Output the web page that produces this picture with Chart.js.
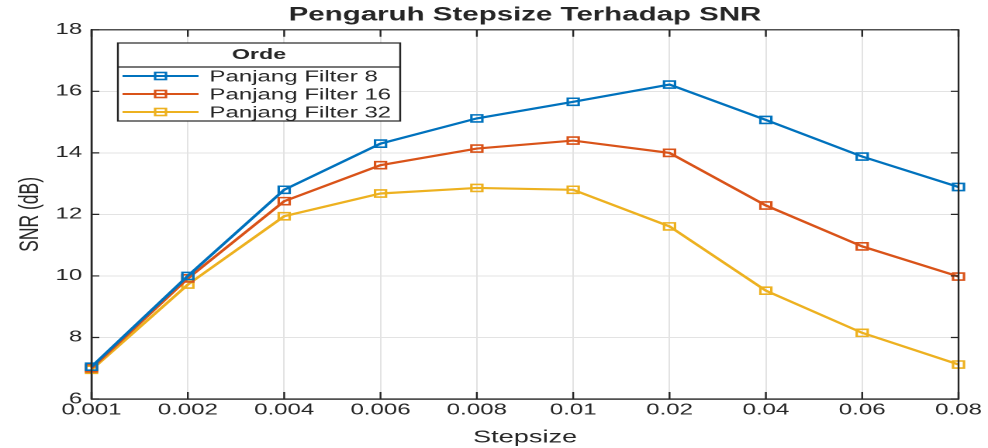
<!DOCTYPE html>
<html>
<head>
<meta charset="utf-8">
<script src="https://cdn.jsdelivr.net/npm/chart.js@4/dist/chart.umd.min.js"></script>
<style>
  html, body { margin: 0; padding: 0; background: #fff; overflow: hidden; }
  /* the reference image is stretched sideways, so the chart is drawn narrow and stretched */
  #wrap { position: absolute; left: 0; top: 0; width: 637px; height: 448px; transform: scaleX(1.551); transform-origin: 0 0; }
</style>
</head>
<body>
<div id="wrap"><canvas id="myChart"></canvas></div>
<script>
var stepsize = ['0.001', '0.002', '0.004', '0.006', '0.008', '0.01', '0.02', '0.04', '0.06', '0.08'];
var filter8 = [7.05, 10.0, 12.8, 14.3, 15.12, 15.66, 16.22, 15.07, 13.88, 12.89];
var filter16 = [7.0, 9.92, 12.43, 13.6, 14.14, 14.4, 14.0, 12.29, 10.96, 9.98];
var filter32 = [6.95, 9.72, 11.94, 12.68, 12.86, 12.8, 11.61, 9.52, 8.15, 7.12];
var seriesNames = ['Panjang Filter 8', 'Panjang Filter 16', 'Panjang Filter 32'];
var legendTitle = 'Orde';

var font = '"Liberation Sans", Arial, Helvetica, sans-serif';
var ink = '#262626';
var colors = ['#0072BD', '#D95319', '#EDB120'];

function makeSet(label, data, color){
    return {
        label: label,
        data: data,
        borderColor: color,
        backgroundColor: color,
        borderWidth: 2.2,
        pointStyle: 'rect',
        pointRadius: 5,
        pointHoverRadius: 5,
        pointBorderWidth: 1.6,
        pointBackgroundColor: 'rgba(0,0,0,0)',
        pointBorderColor: color,
        tension: 0
    };
}

// box round the axes plus inward ticks, like MATLAB
var boxPlugin = {
    id: 'box',
    afterDraw: function(chart){
        var ctx = chart.ctx;
        var a = chart.chartArea;
        var xs = chart.scales.x, ys = chart.scales.y;
        ctx.save();
        ctx.strokeStyle = ink;
        ctx.lineWidth = 1.2;
        ctx.beginPath();
        for(var i = 0; i < stepsize.length; i++){
            var px = xs.getPixelForValue(i);
            ctx.moveTo(px, a.bottom); ctx.lineTo(px, a.bottom - 7);
            ctx.moveTo(px, a.top); ctx.lineTo(px, a.top + 7);
        }
        ys.ticks.forEach(function(t){
            var py = ys.getPixelForValue(t.value);
            ctx.moveTo(a.left, py); ctx.lineTo(a.left + 5, py);
            ctx.moveTo(a.right, py); ctx.lineTo(a.right - 5, py);
        });
        ctx.stroke();
        ctx.strokeRect(a.left, a.top, a.right - a.left, a.bottom - a.top);
        ctx.restore();
    }
};

// boxed legend with a title row, inside the plot
var legendPlugin = {
    id: 'boxLegend',
    afterDatasetsDraw: function(chart){
        var ctx = chart.ctx;
        var sets = chart.data.datasets;
        var x0 = 76, y0 = 43, w = 182, h = 78;
        ctx.save();
        ctx.fillStyle = '#fff';
        ctx.fillRect(x0, y0, w, h);
        ctx.strokeStyle = ink;
        ctx.lineWidth = 1.2;
        ctx.strokeRect(x0, y0, w, h);
        ctx.beginPath();
        ctx.moveTo(x0, y0 + 24); ctx.lineTo(x0 + w, y0 + 24);
        ctx.stroke();
        ctx.fillStyle = ink;
        ctx.textAlign = 'center';
        ctx.textBaseline = 'middle';
        ctx.font = 'bold 15px ' + font;
        ctx.fillText(legendTitle, x0 + w / 2, y0 + 12);
        ctx.textAlign = 'left';
        ctx.font = '15.5px ' + font;
        for(var i = 0; i < sets.length; i++){
            var yy = y0 + 33 + i * 18;
            ctx.strokeStyle = sets[i].borderColor;
            ctx.lineWidth = 2;
            ctx.beginPath();
            ctx.moveTo(x0 + 3, yy); ctx.lineTo(x0 + 52, yy);
            ctx.stroke();
            ctx.lineWidth = 1.6;
            ctx.strokeRect(x0 + 24, yy - 3.5, 7, 7);
            ctx.fillStyle = ink;
            ctx.fillText(sets[i].label, x0 + 59, yy + 1);
        }
        ctx.restore();
    }
};

var ctx = document.getElementById('myChart');
var myChart = new Chart(ctx, {
    type: 'line',
    data: {
        labels: stepsize,
        datasets: [
            makeSet(seriesNames[0], filter8, colors[0]),
            makeSet(seriesNames[1], filter16, colors[1]),
            makeSet(seriesNames[2], filter32, colors[2])
        ]
    },
    options: {
        responsive: true,
        maintainAspectRatio: false,
        animation: false,
        devicePixelRatio: 2,
        layout: { padding: { left: 0, right: 19, top: 0, bottom: 0 } },
        plugins: {
            legend: { display: false },
            tooltip: { enabled: false },
            title: {
                display: true,
                fullSize: false,
                text: 'Pengaruh Stepsize Terhadap SNR',
                color: ink,
                font: { family: font, size: 19, weight: 'bold' },
                padding: { top: 4, bottom: 3 }
            }
        },
        scales: {
            x: {
                offset: false,
                grid: { color: '#e3e3e3', drawTicks: false },
                border: { color: ink, width: 1.2 },
                ticks: { color: ink, font: { family: font, size: 15.5 }, padding: 2, maxRotation: 0, autoSkip: false },
                title: { display: true, text: 'Stepsize', color: ink, font: { family: font, size: 17.5 }, padding: { top: 0, bottom: 0 } },
                afterFit: function(scale){ scale.height = 49; }
            },
            y: {
                min: 6,
                max: 18,
                grid: { color: '#e3e3e3', drawTicks: false },
                border: { color: ink, width: 1.2 },
                ticks: { stepSize: 2, color: ink, font: { family: font, size: 15.5 }, padding: 6 },
                title: { display: true, text: 'SNR (dB)', color: ink, font: { family: font, size: 17.5 }, padding: { top: 9, bottom: 0 } },
                afterFit: function(scale){ scale.width = 59; }
            }
        }
    },
    plugins: [boxPlugin, legendPlugin]
});
</script>
</body>
</html>
